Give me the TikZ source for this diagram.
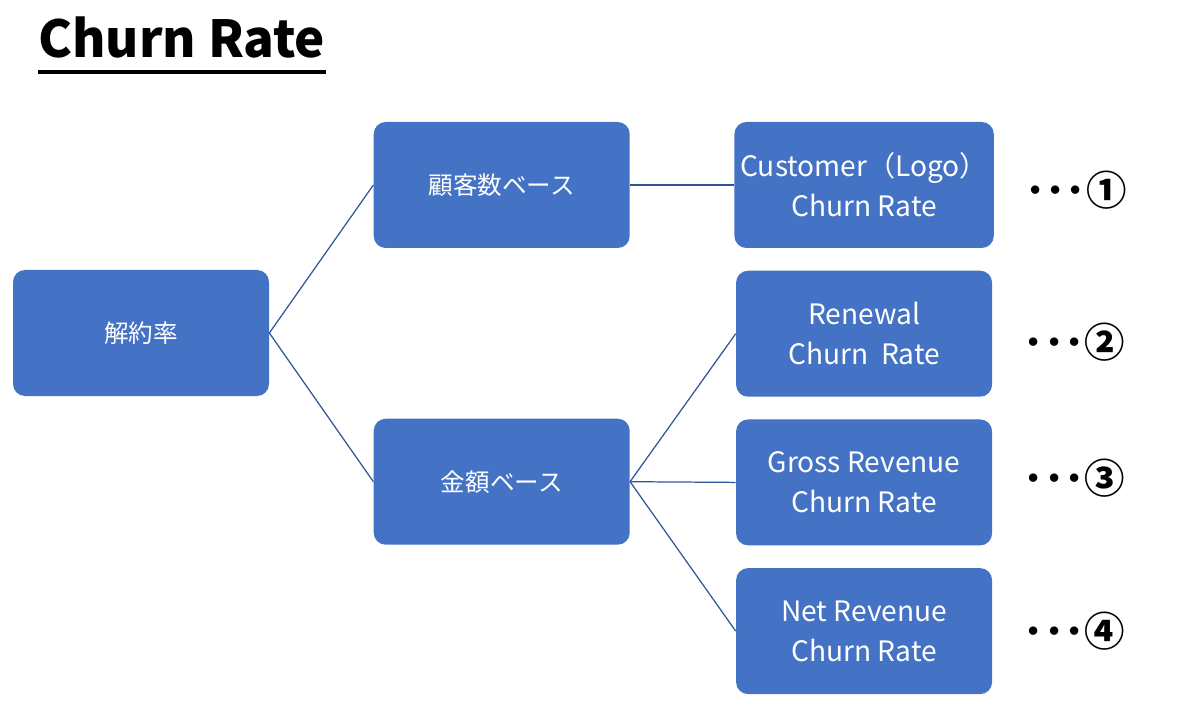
\documentclass[tikz,border=0pt]{standalone}
\usepackage{fontspec}
\setmainfont{Noto Sans CJK JP}
\usepackage{tikz}
\usetikzlibrary{calc,positioning}
\definecolor{boxblue}{HTML}{4472C4}
\definecolor{lineblue}{HTML}{2F5597}
\tikzset{%
	block/.style    = {rectangle, rounded corners=2.4mm, fill=boxblue, text=white, minimum width=5.12cm, minimum height=2.52cm, align=center, font=\fontsize{14pt}{22.7pt}\selectfont}, % Box
	latin/.style    = {block, font=\fontsize{16pt}{22.7pt}\selectfont}, % Box, English text
	link/.style     = {draw=lineblue, line width=0.7pt}, % Connector
	note/.style     = {anchor=west, inner sep=0pt, font=\bfseries\fontsize{23pt}{23pt}\selectfont}, % Number
}
\begin{document}
\begin{tikzpicture}
	\useasboundingbox (0,0) rectangle (24,-14.04);
	% title
	\node[anchor=base west, inner sep=0pt, font=\bfseries\fontsize{29pt}{29pt}\selectfont] (title) at (0.76,-1.16) {Churn Rate};
	\draw[line width=2.3pt] ($(title.base west)+(0,-0.28)$) -- ($(title.base east)+(0,-0.28)$);
	% boxes
	\node[block] (root) at (2.82,-6.66) {解約率};
	\node[block, right=2.08cm of root, yshift=2.96cm] (cust) {顧客数ベース};
	\node[block, below=3.4cm of cust] (amt) {金額ベース};
	\node[latin, right=2.08cm of cust] (logo) {Customer（Logo）\\Churn Rate};
	\node[latin, below=0.44cm of logo] (renew) {Renewal\\Churn~ Rate};
	\node[latin, below=0.44cm of renew] (gross) {Gross Revenue\\Churn Rate};
	\node[latin, below=0.44cm of gross] (net) {Net Revenue\\Churn Rate};
	% numbers
	\node[note, right=0.62cm of logo, yshift=-0.1cm] (n1) {･･･①};
	\node[note, right=0.62cm of renew, yshift=-0.16cm] (n2) {･･･②};
	\node[note, right=0.62cm of gross, yshift=0.08cm] (n3) {･･･③};
	\node[note, right=0.62cm of net] (n4) {･･･④};
	% links
	\draw[link] (root.east) -- (cust.west);
	\draw[link] (root.east) -- (amt.west);
	\draw[link] (cust.east) -- (logo.west);
	\draw[link] (amt.east) -- (renew.west);
	\draw[link] (amt.east) -- (gross.west);
	\draw[link] (amt.east) -- (net.west);
\end{tikzpicture}
\end{document}
